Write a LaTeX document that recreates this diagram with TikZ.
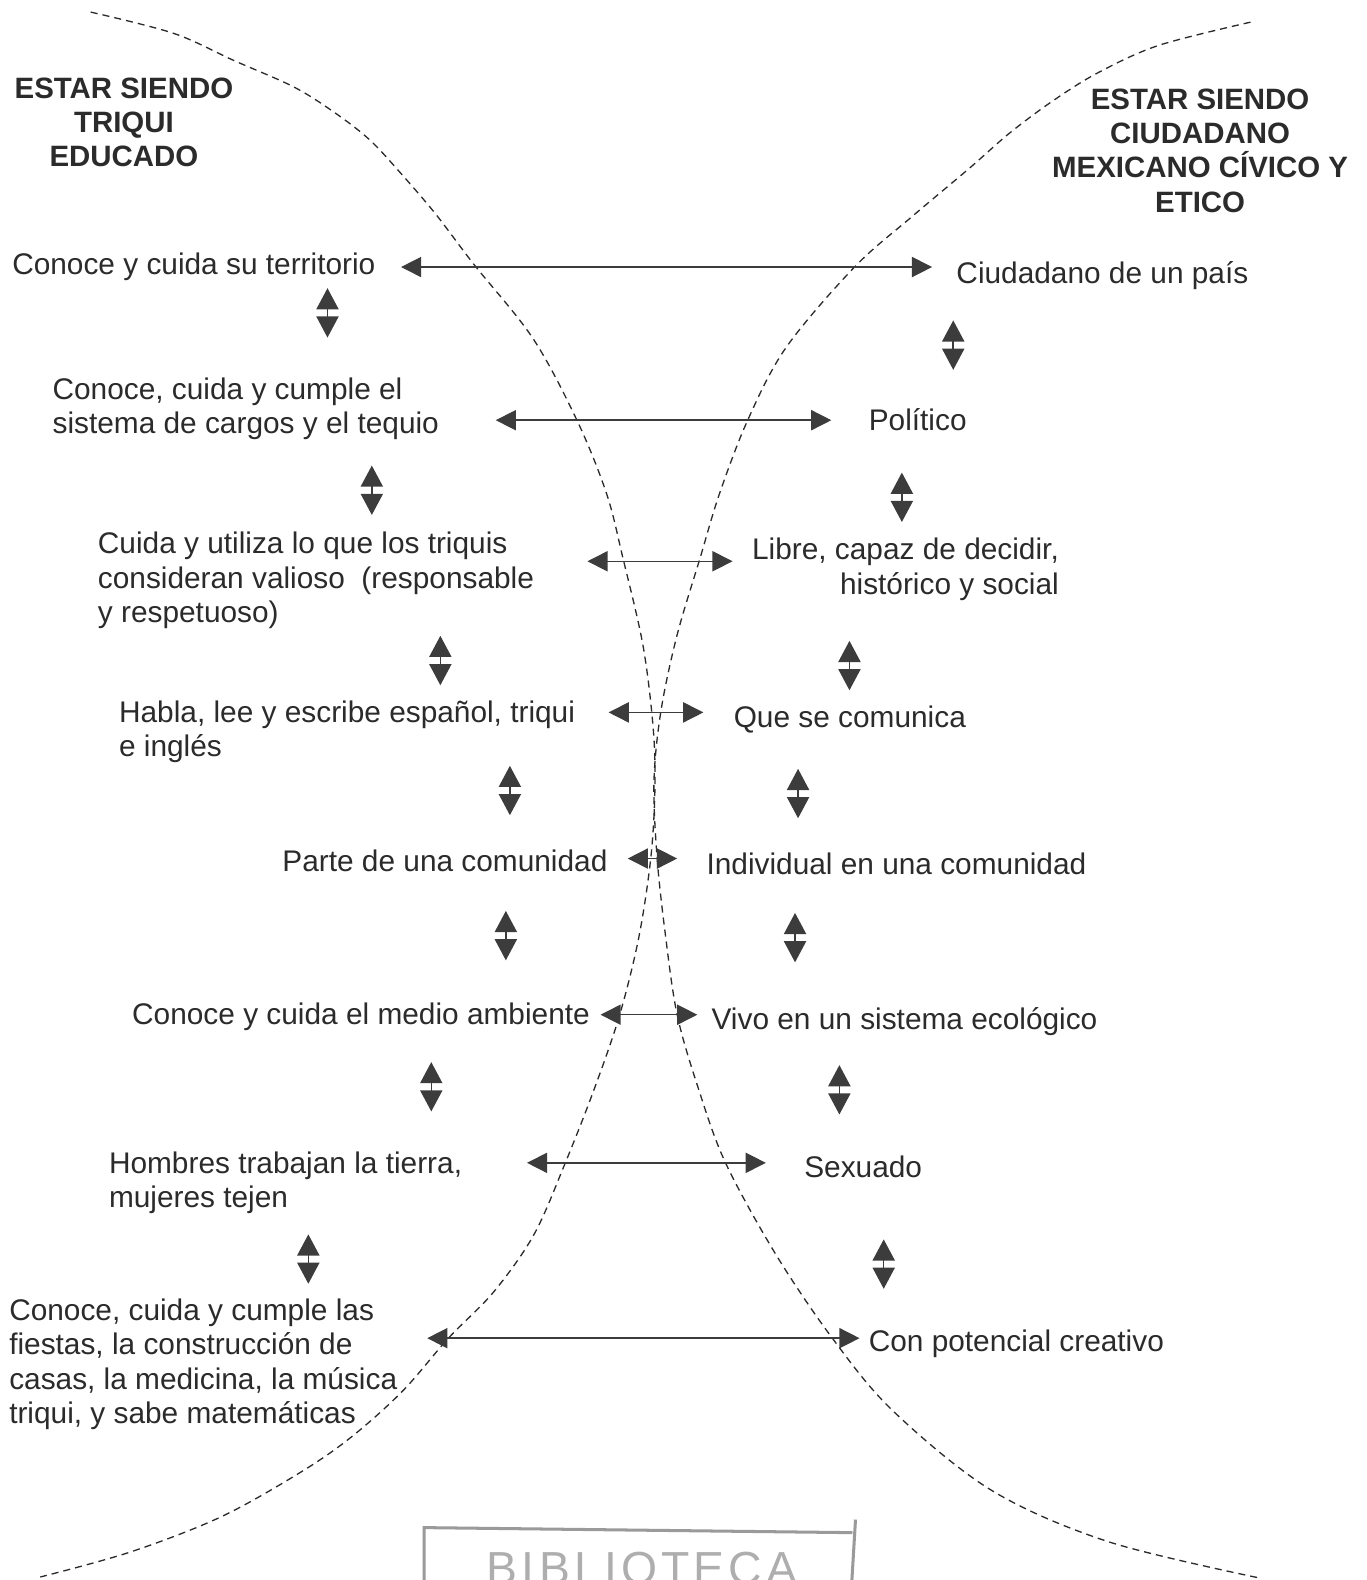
\documentclass[tikz,border=0pt]{standalone}
\usepackage{fontspec}
\setmainfont{Liberation Sans}
\newfontfamily\stampfont[LetterSpace=9]{Liberation Sans}
\usetikzlibrary{arrows.meta}
\definecolor{txt}{HTML}{2B2B2B}
\definecolor{arr}{HTML}{3C3C3C}
\definecolor{stampc}{HTML}{9A9A9A}
\tikzset{
  lbl/.style={inner sep=0pt, text=txt, font=\fontsize{29.6}{34}\selectfont, align=left},
  head/.style={inner sep=0pt, text=txt, font=\fontsize{29.2}{34}\selectfont\bfseries, align=center},
  harrow/.style={draw=arr, line width=1.5pt, {Triangle[length=20pt,width=20pt]}-{Triangle[length=20pt,width=20pt]}},
  varrow/.style={draw=arr, line width=1.5pt, {Triangle[length=21pt,width=22pt]}-{Triangle[length=21pt,width=22pt]}},
  curve/.style={draw=txt, line width=1.3pt, dash pattern=on 7pt off 5pt}
}
\begin{document}
\begin{tikzpicture}[x=1pt,y=-1pt]
\useasboundingbox (0,0) rectangle (1356,1568);
\clip (0,0) rectangle (1356,1568);
\fill[white] (0,0) rectangle (1356,1568);

% dashed curves
\draw[curve] plot[smooth, tension=0.55] coordinates {(90,12) (172,33) (232,60) (291,86) (331,111) (366,138) (396,170) (432,212) (470,262) (529,336) (573,418) (602,490) (618,553) (638,640) (648,720) (650,780) (646,850) (634,930) (615,1007) (590,1080) (561,1154) (530,1225) (490,1282) (445,1328) (400,1380) (350,1425) (300,1460) (220,1505) (130,1540) (40,1565)};
\draw[curve] plot[smooth, tension=0.55] coordinates {(1241,22) (1150,45) (1090,72) (1045,100) (1002,132) (962,167) (905,215) (848,265) (780,345) (742,417) (714,490) (695,553) (672,630) (656,705) (649,775) (652,850) (660,925) (672,1007) (693,1080) (720,1154) (770,1245) (826,1328) (886,1400) (984,1479) (1100,1530) (1250,1566)};

% headings
\node[head, anchor=north] (hl) at (123,77) {ESTAR SIENDO\\TRIQUI\\EDUCADO};
\node[head, anchor=north] (hr) at (1191,88) {ESTAR SIENDO\\CIUDADANO\\MEXICANO CÍVICO Y\\ETICO};

% left column
\node[lbl, anchor=north west] (l1) at (12,251) {Conoce y cuida su territorio};
\node[lbl, anchor=north west] (l2) at (52,375) {Conoce, cuida y cumple el\\sistema de cargos y el tequio};
\node[lbl, anchor=north west] (l3) at (97,528) {Cuida y utiliza lo que los triquis\\consideran valioso~ (responsable\\y respetuoso)};
\node[lbl, anchor=north west] (l4) at (118,695) {Habla, lee y escribe español, triqui\\e inglés};
\node[lbl, anchor=north east] (l5) at (603,843) {Parte de una comunidad};
\node[lbl, anchor=north west] (l6) at (131,995) {Conoce y cuida el medio ambiente};
\node[lbl, anchor=north west] (l7) at (108,1143) {Hombres trabajan la tierra,\\mujeres tejen};
\node[lbl, anchor=north west] (l8) at (9,1289) {Conoce, cuida y cumple las\\fiestas, la construcción de\\casas, la medicina, la música\\triqui, y sabe matemáticas};

% right column
\node[lbl, anchor=north west] (r1) at (949,259) {Ciudadano de un país};
\node[lbl, anchor=north west] (r2) at (862,405) {Político};
\node[lbl, anchor=north east, align=right] (r3) at (1051,534) {Libre, capaz de decidir,\\histórico y social};
\node[lbl, anchor=north west] (r4) at (728,700) {Que se comunica};
\node[lbl, anchor=north west] (r5) at (701,846) {Individual en una comunidad};
\node[lbl, anchor=north west] (r6) at (706,1000) {Vivo en un sistema ecológico};
\node[lbl, anchor=north west] (r7) at (798,1147) {Sexuado};
\node[lbl, anchor=north west] (r8) at (862,1320) {Con potencial creativo};

% horizontal arrow ends
\coordinate (a1w) at (398,265); \coordinate (a1e) at (925,265);
\coordinate (a2w) at (492,417); \coordinate (a2e) at (825,417);
\coordinate (a3w) at (583,557); \coordinate (a3e) at (727,557);
\coordinate (a4w) at (604,707); \coordinate (a4e) at (698,707);
\coordinate (a5w) at (623,852); \coordinate (a5e) at (672,852);
\coordinate (a6w) at (596,1007); \coordinate (a6e) at (692,1007);
\coordinate (a7w) at (523,1154); \coordinate (a7e) at (760,1154);
\coordinate (a8w) at (424,1328); \coordinate (a8e) at (853,1328);
\foreach \i in {1,...,8} {\draw[harrow] (a\i w) -- (a\i e);}

% vertical arrows (left)
\coordinate (v1t) at (325,286); \coordinate (v1b) at (325,335);
\coordinate (v2t) at (369,462); \coordinate (v2b) at (369,511);
\coordinate (v3t) at (437,631); \coordinate (v3b) at (437,680);
\coordinate (v4t) at (506,760); \coordinate (v4b) at (506,809);
\coordinate (v5t) at (502,904); \coordinate (v5b) at (502,953);
\coordinate (v6t) at (428,1054); \coordinate (v6b) at (428,1103);
\coordinate (v7t) at (306,1225); \coordinate (v7b) at (306,1274);
% vertical arrows (right)
\coordinate (w1t) at (946,318); \coordinate (w1b) at (946,367);
\coordinate (w2t) at (895,469); \coordinate (w2b) at (895,518);
\coordinate (w3t) at (843,636); \coordinate (w3b) at (843,685);
\coordinate (w4t) at (792,763); \coordinate (w4b) at (792,812);
\coordinate (w5t) at (789,906); \coordinate (w5b) at (789,955);
\coordinate (w6t) at (833,1057); \coordinate (w6b) at (833,1106);
\coordinate (w7t) at (877,1230); \coordinate (w7b) at (877,1279);
\foreach \i in {1,...,7} {\draw[varrow] (v\i t) -- (v\i b); \draw[varrow] (w\i t) -- (w\i b);}

% library stamp (cut by the page edge)
\draw[stampc, line width=3pt] (421,1575) -- (421,1516) -- (846,1521);
\draw[stampc, line width=3pt] (849,1508) -- (845,1575);
\node[inner sep=0pt, anchor=north west, text=stampc!80, font=\stampfont\fontsize{46}{50}\selectfont] (stamp) at (483,1540) {BIBLIOTECA};
\end{tikzpicture}
\end{document}
